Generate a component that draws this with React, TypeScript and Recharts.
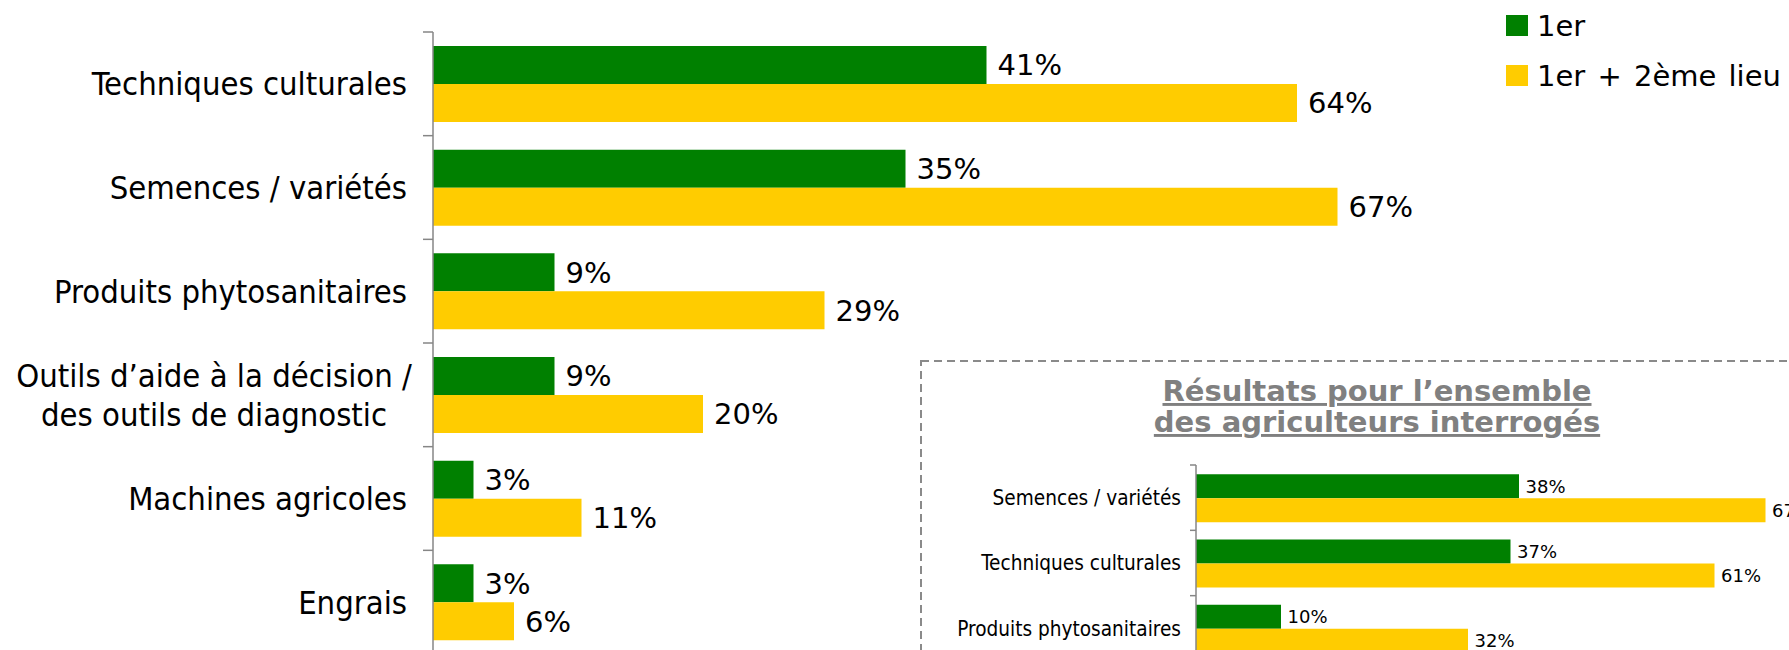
import React from 'react';
import { BarChart, Bar, XAxis, YAxis, LabelList } from 'recharts';

// main chart: where the farmers get their information, 1st place vs 1st + 2nd place
const categories = [
  'Techniques culturales',
  'Semences / variétés',
  'Produits phytosanitaires',
  'Outils d’aide à la décision /\ndes outils de diagnostic',
  'Machines agricoles',
  'Engrais',
];
const premier = [41, 35, 9, 9, 3, 3];
const premierDeuxieme = [64, 67, 29, 20, 11, 6];

// inset: all farmers (only the top of it is visible)
const insetCategories = ['Semences / variétés', 'Techniques culturales', 'Produits phytosanitaires'];
const insetPremier = [38, 37, 10];
const insetPremierDeuxieme = [67, 61, 32];

const seriesNames = ['1er', '1er + 2ème lieu'];
const insetTitle = ['Résultats pour l’ensemble', 'des agriculteurs interrogés'];
const COLORS = ['#008000', '#FFCC00'];
const AXIS_GREY = '#868686';

const CONDENSED = "'DejaVu Sans Condensed', 'DejaVu Sans', sans-serif";
const SANS = "'DejaVu Sans', Verdana, sans-serif";

const mainData = categories.map((name, i) => ({ name, a: premier[i], b: premierDeuxieme[i] }));
const insetData = insetCategories.map((name, i) => ({ name, a: insetPremier[i], b: insetPremierDeuxieme[i] }));

const MAIN_H = 654;
const MAIN_TOP = 32;
const MAIN_BAND = (MAIN_H - MAIN_TOP) / categories.length;

const INSET_H = 300;
const INSET_TOP = 104;
const INSET_BAND = (INSET_H - INSET_TOP) / insetCategories.length;

const pct = (v: any) => `${v}%`;

// ticks sit on the band boundaries (excel style), label in the middle
const makeTick = (band: number, tickLen: number, gap: number, fontSize: number, lineGap: number) =>
  (props: any) => {
    const { x, y, payload } = props;
    const axisX = x + gap + tickLen;
    const lines = String(payload.value).split('\n');
    const top = y - band / 2;
    return (
      <g>
        <line x1={axisX - tickLen} x2={axisX} y1={top} y2={top} stroke={AXIS_GREY} strokeWidth={1.5} />
        {lines.length === 1 ? (
          <text x={x} y={y} dy="0.35em" textAnchor="end" fontSize={fontSize}
            fontFamily={CONDENSED} style={{ fontStretch: 'condensed' }} fill="#000">
            {lines[0]}
          </text>
        ) : (
          <text x={x - 193} y={y} textAnchor="middle" fontSize={fontSize}
            fontFamily={CONDENSED} style={{ fontStretch: 'condensed' }} fill="#000">
            {lines.map((l, i) => (
              <tspan key={i} x={x - 193} y={y + (i - (lines.length - 1) / 2) * lineGap} dy="0.35em">{l}</tspan>
            ))}
          </text>
        )}
      </g>
    );
  };

const MainTick = makeTick(MAIN_BAND, 10, 16, 32.5, 39);
const InsetTick = makeTick(INSET_BAND, 6, 9, 20.6, 24);

export default function App() {
  return (
    <div style={{ position: 'absolute', left: 0, top: 0, width: 1789, height: 650, overflow: 'hidden', background: '#fff' }}>
      <div style={{ position: 'absolute', left: 0, top: 0 }}>
        <BarChart width={1789} height={MAIN_H} data={mainData} layout="vertical"
          margin={{ top: MAIN_TOP, right: 6, bottom: 0, left: 0 }} barCategoryGap="13.5%" barGap={0}>
          <XAxis type="number" domain={[0, 100]} hide />
          <YAxis type="category" dataKey="name" width={433} tickSize={10} tickMargin={16}
            axisLine={{ stroke: AXIS_GREY, strokeWidth: 1.5 }} tickLine={false} tick={<MainTick />} interval={0} />
          <Bar dataKey="a" name={seriesNames[0]} fill={COLORS[0]} isAnimationActive={false}>
            <LabelList dataKey="a" position="right" offset={11} formatter={pct}
              style={{ fontSize: 29, fontFamily: SANS, fill: '#000' }} />
          </Bar>
          <Bar dataKey="b" name={seriesNames[1]} fill={COLORS[1]} isAnimationActive={false}>
            <LabelList dataKey="b" position="right" offset={11} formatter={pct}
              style={{ fontSize: 29, fontFamily: SANS, fill: '#000' }} />
          </Bar>
        </BarChart>
      </div>

      {/* legend */}
      <div style={{ position: 'absolute', left: 1506, top: 15, fontFamily: SANS }}>
        {seriesNames.map((n, i) => (
          <div key={n} style={{ display: 'flex', alignItems: 'center', height: 21, marginBottom: 29 }}>
            <span style={{ display: 'inline-block', width: 22, height: 21, background: COLORS[i], marginRight: 9 }} />
            <span style={{ fontSize: 29, lineHeight: '21px', wordSpacing: 3, color: '#000', whiteSpace: 'nowrap', position: 'relative', top: 1 }}>{n}</span>
          </div>
        ))}
      </div>

      {/* dashed frame of the inset + its title */}
      <svg style={{ position: 'absolute', left: 0, top: 0 }} width={1789} height={650}>
        <rect x={921} y={361} width={1000} height={400} fill="none" stroke="#8a8a8a" strokeWidth={2} strokeDasharray="8 5" />
        {insetTitle.map((t, i) => (
          <text key={t} x={1377} y={401 + i * 31} textAnchor="middle" fontFamily={SANS} fontWeight="bold"
            fontSize={29} fill="#808080" textDecoration="underline">
            {t}
          </text>
        ))}
      </svg>

      <div style={{ position: 'absolute', left: 921, top: 361 }}>
        <BarChart width={1125} height={INSET_H} data={insetData} layout="vertical"
          margin={{ top: INSET_TOP, right: 0, bottom: 0, left: 0 }} barCategoryGap="14%" barGap={0}>
          <XAxis type="number" domain={[0, 100]} hide />
          <YAxis type="category" dataKey="name" width={275} tickSize={6} tickMargin={9}
            axisLine={{ stroke: AXIS_GREY, strokeWidth: 1.5 }} tickLine={false} tick={<InsetTick />} interval={0} />
          <Bar dataKey="a" name={seriesNames[0]} fill={COLORS[0]} isAnimationActive={false}>
            <LabelList dataKey="a" position="right" offset={6.5} formatter={pct}
              style={{ fontSize: 18, fontFamily: SANS, fill: '#000' }} />
          </Bar>
          <Bar dataKey="b" name={seriesNames[1]} fill={COLORS[1]} isAnimationActive={false}>
            <LabelList dataKey="b" position="right" offset={6.5} formatter={pct}
              style={{ fontSize: 18, fontFamily: SANS, fill: '#000' }} />
          </Bar>
        </BarChart>
      </div>
    </div>
  );
}
